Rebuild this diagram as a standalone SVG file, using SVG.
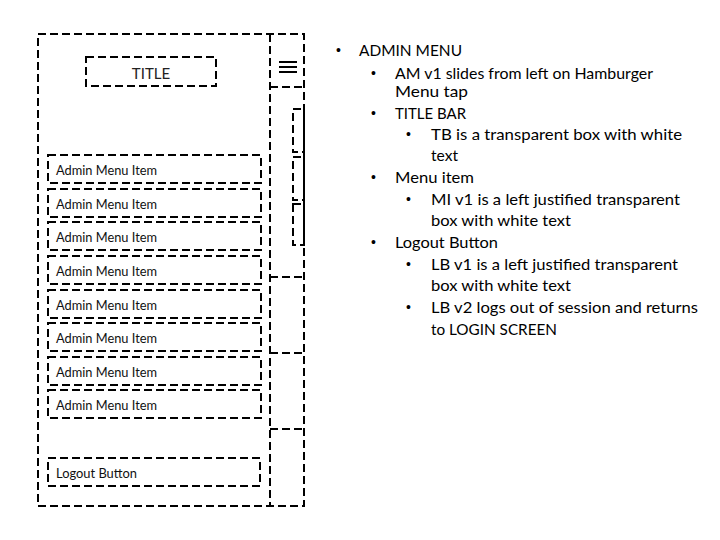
<svg xmlns="http://www.w3.org/2000/svg" width="720" height="540" viewBox="0 0 720 540">
  <style>
    .dash { fill: none; stroke: #000; stroke-width: 2; stroke-dasharray: 8 4; }
    .item { font-family: Lato, "Liberation Sans", sans-serif; font-size: 12.5px; fill: #111; }
    .title { font-family: Lato, "Liberation Sans", sans-serif; font-size: 15px; fill: #222; }
    .note { font-family: Lato, "Liberation Sans", sans-serif; font-size: 16px; fill: #000; }
    .bul { font-family: "Liberation Sans", sans-serif; font-size: 14px; fill: #000; }
    .burger { stroke: #000; stroke-width: 2; }
  </style>
  <rect width="720" height="540" fill="#fff"/>

  <!-- phone screen frame: menu panel plus peeking strip -->
  <g id="screen">
    <rect class="dash" x="38" y="34" width="266" height="472"/>
    <line class="dash" x1="270" y1="34" x2="270" y2="506"/>
  </g>

  <!-- strip of the underlying screen visible beside the menu -->
  <g id="peek-strip">
    <line class="dash" x1="270" y1="87" x2="304" y2="87"/>
    <line class="dash" x1="270" y1="277" x2="304" y2="277"/>
    <line class="dash" x1="270" y1="353" x2="304" y2="353"/>
    <line class="dash" x1="270" y1="429" x2="304" y2="429"/>
    <rect class="dash" x="293" y="109" width="11" height="43"/>
    <rect class="dash" x="293" y="157" width="11" height="43"/>
    <rect class="dash" x="293" y="204" width="11" height="41"/>
  </g>

  <g id="hamburger">
    <line class="burger" x1="279" y1="62" x2="297" y2="62"/>
    <line class="burger" x1="279" y1="67" x2="297" y2="67"/>
    <line class="burger" x1="279" y1="72" x2="297" y2="72"/>
  </g>

  <g id="title-bar">
    <rect class="dash" x="86" y="57" width="130" height="29"/>
    <text class="title" x="151" y="79" text-anchor="middle">TITLE</text>
  </g>

  <g id="menu-item-1">
    <rect class="dash" x="48" y="155" width="213" height="28"/>
    <text class="item" x="56" y="175" textLength="101" lengthAdjust="spacingAndGlyphs">Admin Menu Item</text>
  </g>
  <g id="menu-item-2">
    <rect class="dash" x="48" y="189" width="213" height="28"/>
    <text class="item" x="56" y="209" textLength="101" lengthAdjust="spacingAndGlyphs">Admin Menu Item</text>
  </g>
  <g id="menu-item-3">
    <rect class="dash" x="48" y="222" width="213" height="28"/>
    <text class="item" x="56" y="242" textLength="101" lengthAdjust="spacingAndGlyphs">Admin Menu Item</text>
  </g>
  <g id="menu-item-4">
    <rect class="dash" x="48" y="256" width="213" height="28"/>
    <text class="item" x="56" y="276" textLength="101" lengthAdjust="spacingAndGlyphs">Admin Menu Item</text>
  </g>
  <g id="menu-item-5">
    <rect class="dash" x="48" y="290" width="213" height="28"/>
    <text class="item" x="56" y="310" textLength="101" lengthAdjust="spacingAndGlyphs">Admin Menu Item</text>
  </g>
  <g id="menu-item-6">
    <rect class="dash" x="48" y="323" width="213" height="28"/>
    <text class="item" x="56" y="343" textLength="101" lengthAdjust="spacingAndGlyphs">Admin Menu Item</text>
  </g>
  <g id="menu-item-7">
    <rect class="dash" x="48" y="357" width="213" height="28"/>
    <text class="item" x="56" y="377" textLength="101" lengthAdjust="spacingAndGlyphs">Admin Menu Item</text>
  </g>
  <g id="menu-item-8">
    <rect class="dash" x="48" y="390" width="213" height="28"/>
    <text class="item" x="56" y="410" textLength="101" lengthAdjust="spacingAndGlyphs">Admin Menu Item</text>
  </g>

  <g id="logout-button">
    <rect class="dash" x="48" y="458" width="212" height="28"/>
    <text class="item" x="56" y="478" textLength="81" lengthAdjust="spacingAndGlyphs">Logout Button</text>
  </g>

  <!-- specification notes -->
  <g id="notes">
    <text class="bul" x="336" y="55">•</text>
    <text class="note" x="359" y="56" textLength="103" lengthAdjust="spacingAndGlyphs">ADMIN MENU</text>

    <text class="bul" x="371" y="78">•</text>
    <text class="note" x="395" y="79" textLength="258" lengthAdjust="spacingAndGlyphs">AM v1 slides from left on Hamburger</text>
    <text class="note" x="395" y="97" textLength="73" lengthAdjust="spacingAndGlyphs">Menu tap</text>

    <text class="bul" x="371" y="118">•</text>
    <text class="note" x="395" y="119" textLength="71" lengthAdjust="spacingAndGlyphs">TITLE BAR</text>

    <text class="bul" x="406" y="139">•</text>
    <text class="note" x="431" y="140" textLength="251" lengthAdjust="spacingAndGlyphs">TB is a transparent box with white</text>
    <text class="note" x="431" y="161" textLength="27" lengthAdjust="spacingAndGlyphs">text</text>

    <text class="bul" x="371" y="182">•</text>
    <text class="note" x="395" y="183" textLength="79" lengthAdjust="spacingAndGlyphs">Menu item</text>

    <text class="bul" x="406" y="204">•</text>
    <text class="note" x="431" y="205" textLength="249" lengthAdjust="spacingAndGlyphs">MI v1 is a left justified transparent</text>
    <text class="note" x="431" y="226" textLength="140" lengthAdjust="spacingAndGlyphs">box with white text</text>

    <text class="bul" x="371" y="247">•</text>
    <text class="note" x="395" y="248" textLength="103" lengthAdjust="spacingAndGlyphs">Logout Button</text>

    <text class="bul" x="406" y="269">•</text>
    <text class="note" x="431" y="270" textLength="247" lengthAdjust="spacingAndGlyphs">LB v1 is a left justified transparent</text>
    <text class="note" x="431" y="291" textLength="140" lengthAdjust="spacingAndGlyphs">box with white text</text>

    <text class="bul" x="406" y="312">•</text>
    <text class="note" x="431" y="313" textLength="267" lengthAdjust="spacingAndGlyphs">LB v2 logs out of session and returns</text>
    <text class="note" x="431" y="335" textLength="126" lengthAdjust="spacingAndGlyphs">to LOGIN SCREEN</text>
  </g>
</svg>
